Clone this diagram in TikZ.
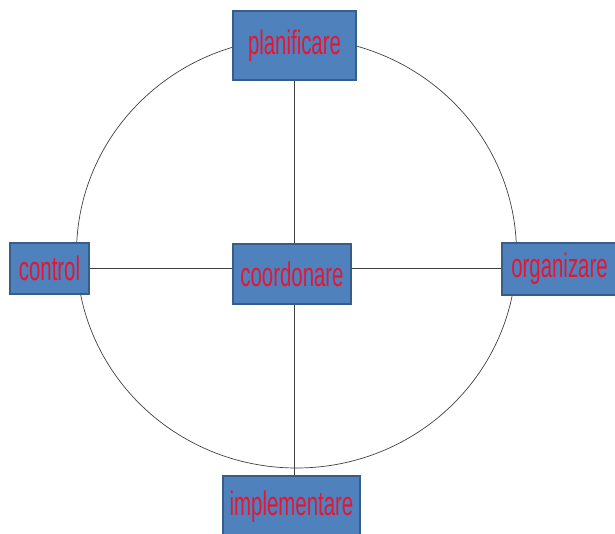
\documentclass[tikz,border=0pt]{standalone}
\usepackage{fontspec}
\usepackage{xcolor}
\usepackage{tikz}
\newfontfamily\boxfont[FakeStretch=0.6]{Liberation Sans}
\definecolor{boxblue}{HTML}{4F81BD}
\definecolor{boxedge}{HTML}{385D8A}
\definecolor{labelred}{RGB}{228,22,52}

\begin{document}
\begin{tikzpicture}[x=1pt,y=-1pt,
        phase/.style={draw=boxedge, line width=1.3pt, fill=boxblue, inner sep=0pt,
            text=labelred, font=\boxfont\fontsize{34}{40}\selectfont},
        link/.style={draw=black!75, line width=0.7pt}]
    \useasboundingbox (0,0) rectangle (615,533);
    \draw[link] (296.5,253) ellipse [x radius=220pt, y radius=215pt];
    \node[phase, minimum width=123pt, minimum height=69pt] (plan) at (294.5,45.5) {planificare};
    \node[phase, minimum width=79pt, minimum height=51pt] (ctrl) at (49.5,268.5) {control};
    \node[phase, minimum width=118pt, minimum height=60pt] (coord) at (292,274) {coordonare};
    \node[phase, minimum width=115pt, minimum height=52pt] (org) at (559.5,269) {organizare};
    \node[phase, minimum width=137pt, minimum height=62pt] (impl) at (291.5,507) {implementare};
    \draw[link] (ctrl.east) -- (ctrl.east -| coord.west);
    \draw[link] (ctrl.east -| coord.east) -- (ctrl.east -| org.west);
    \draw[link] (plan.south) -- (plan.south |- coord.north);
    \draw[link] (plan.south |- coord.south) -- (plan.south |- impl.north);
\end{tikzpicture}
\end{document}
